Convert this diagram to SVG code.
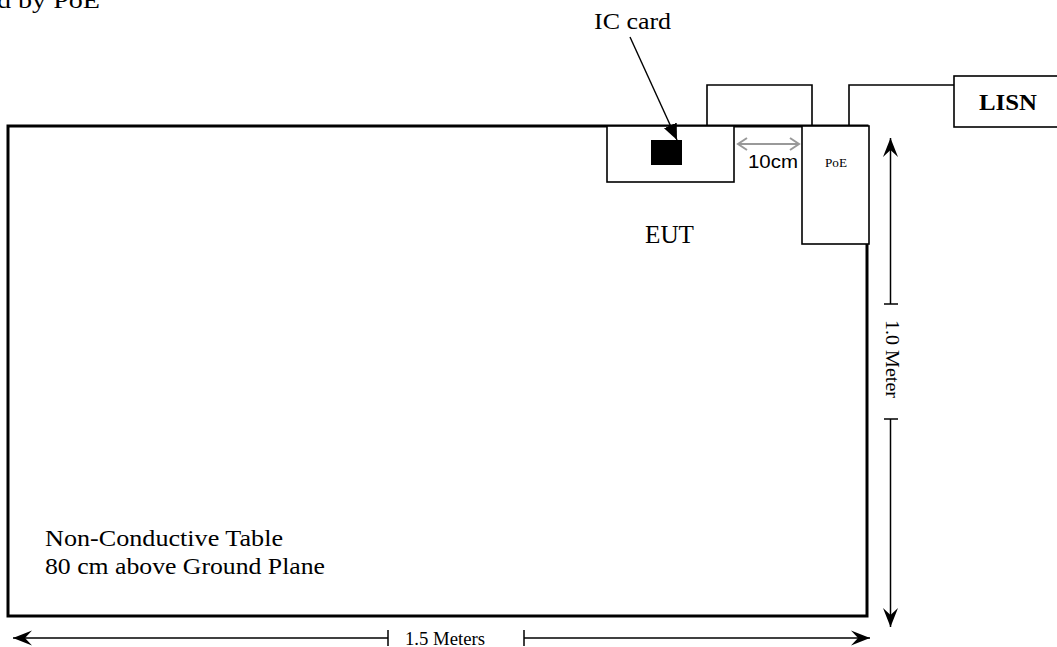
<svg xmlns="http://www.w3.org/2000/svg" width="1057" height="647" viewBox="0 0 1057 647">
<style>
.t{font-family:"Liberation Serif","Times New Roman",serif;fill:#000}
.s{font-family:"Liberation Sans",Arial,sans-serif;fill:#000}
.box{fill:#fff;stroke:#000;stroke-width:1.6}
.w{fill:none;stroke:#000;stroke-width:1.6}
.dim{fill:none;stroke:#000;stroke-width:1.5}
</style>
<defs>
<marker id="dimA" markerUnits="userSpaceOnUse" markerWidth="22" markerHeight="16" refX="19" refY="8" orient="auto-start-reverse" viewBox="0 0 22 16">
<path d="M0,0.5 L19,8 L0,15.5 L7,8 z" fill="#000"/>
</marker>
<marker id="grayA" markerUnits="userSpaceOnUse" markerWidth="12" markerHeight="14" refX="10" refY="7" orient="auto-start-reverse" viewBox="0 0 12 14">
<polyline points="1,1 10,7 1,13" fill="none" stroke="#999" stroke-width="2"/>
</marker>
<marker id="icA" markerUnits="userSpaceOnUse" markerWidth="18" markerHeight="14" refX="16" refY="7" orient="auto" viewBox="0 0 18 14">
<path d="M0,0 L16,7 L0,14 z" fill="#000"/>
</marker>
</defs>

<text class="t" x="-3" y="8" font-size="24" textLength="103" lengthAdjust="spacingAndGlyphs">d by PoE</text>

<g id="table">
<rect x="8" y="126" width="859" height="490" fill="#fff" stroke="#000" stroke-width="3"/>
<text class="t" x="45" y="546" font-size="24" textLength="238" lengthAdjust="spacingAndGlyphs">Non-Conductive Table</text>
<text class="t" x="45" y="574" font-size="24" textLength="280" lengthAdjust="spacingAndGlyphs">80 cm above Ground Plane</text>
</g>

<g id="eut">
<rect class="box" x="607" y="126" width="127" height="56"/>
<rect x="651" y="140" width="31" height="25" fill="#000"/>
<text class="t" x="645" y="243" font-size="25" textLength="49" lengthAdjust="spacingAndGlyphs">EUT</text>
</g>

<g id="ic-card-label">
<text class="t" x="594" y="29" font-size="23" textLength="77" lengthAdjust="spacingAndGlyphs">IC card</text>
</g>

<g id="gap-label">
<text class="s" x="748" y="168" font-size="18" textLength="50" lengthAdjust="spacingAndGlyphs">10cm</text>
</g>

<g id="poe">
<rect class="box" x="802" y="126" width="67" height="118"/>
<text class="t" x="825" y="167" font-size="12" textLength="22" lengthAdjust="spacingAndGlyphs">PoE</text>
</g>

<g id="lisn">
<rect class="box" x="954" y="76" width="110" height="51"/>
<text class="t" x="979" y="110" font-size="24" font-weight="bold" textLength="58" lengthAdjust="spacingAndGlyphs">LISN</text>
</g>

<g id="connectors">
<polyline class="w" points="707,126 707,85 812,85 812,126"/>
<polyline class="w" points="849,126 849,85 954,85"/>
<line x1="630" y1="37" x2="677" y2="140" stroke="#000" stroke-width="1.4" marker-end="url(#icA)"/>
<line x1="738" y1="144" x2="799" y2="144" stroke="#999" stroke-width="2" marker-start="url(#grayA)" marker-end="url(#grayA)"/>
</g>

<g id="dim-vertical">
<line class="dim" x1="890.5" y1="304" x2="890.5" y2="138" marker-end="url(#dimA)"/>
<line class="dim" x1="884" y1="304" x2="898" y2="304"/>
<line class="dim" x1="890.5" y1="419" x2="890.5" y2="627" marker-end="url(#dimA)"/>
<line class="dim" x1="884" y1="419" x2="898" y2="419"/>
<text class="t" transform="translate(886,320) rotate(90)" x="0" y="0" font-size="19" textLength="78" lengthAdjust="spacingAndGlyphs">1.0 Meter</text>
</g>

<g id="dim-horizontal">
<line class="dim" x1="388" y1="638" x2="13" y2="638" marker-end="url(#dimA)"/>
<line class="dim" x1="388" y1="630" x2="388" y2="646"/>
<line class="dim" x1="524" y1="638" x2="870" y2="638" marker-end="url(#dimA)"/>
<line class="dim" x1="524" y1="630" x2="524" y2="646"/>
<text class="t" x="405" y="645" font-size="18" textLength="80" lengthAdjust="spacingAndGlyphs">1.5 Meters</text>
</g>
</svg>
